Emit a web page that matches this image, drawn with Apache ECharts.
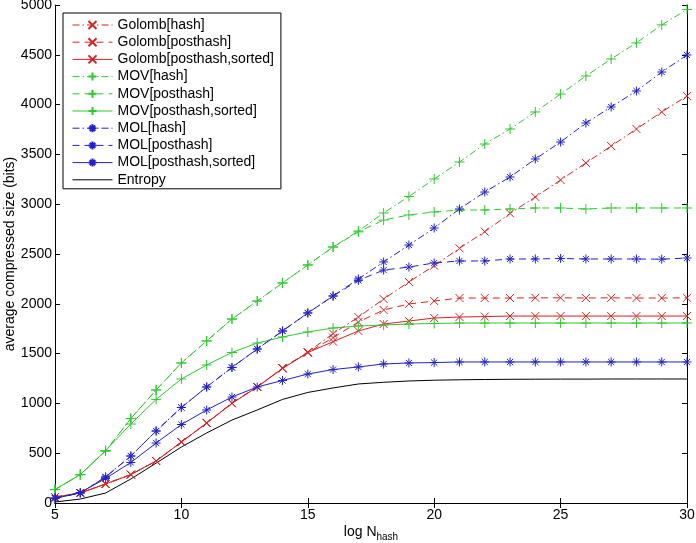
<!DOCTYPE html>
<html><head><meta charset="utf-8">
<script src="https://cdn.jsdelivr.net/npm/echarts@6/dist/echarts.min.js"></script>
<style>html,body{margin:0;padding:0;background:#fff}#c{width:696px;height:543px}</style>
</head><body><div id="c"></div>
<script>
const logN = [5,6,7,8,9,10,11,12,13,14,15,16,17,18,19,20,21,22,23,24,25,26,27,28,29,30];
const golombHash = [60,100,191,285,422,612,803,1004,1165,1355,1515,1700,1867,2048,2219,2383,2557,2724,2908,3072,3243,3414,3584,3755,3926,4086];
const golombPosthash = [60,100,191,285,422,612,803,1004,1165,1355,1510,1660,1817,1938,1998,2028,2058,2058,2058,2060,2060,2058,2060,2058,2058,2060];
const golombSorted = [60,100,191,285,422,612,803,1000,1165,1350,1510,1620,1727,1797,1827,1857,1867,1872,1877,1877,1877,1877,1877,1877,1877,1877];
const movHash = [135,285,522,848,1135,1406,1627,1847,2028,2209,2390,2570,2731,2912,3077,3253,3424,3604,3755,3926,4106,4287,4458,4620,4800,4955];
const movPosthash = [135,285,522,848,1135,1406,1627,1847,2028,2209,2390,2570,2722,2841,2892,2922,2942,2942,2952,2962,2962,2952,2962,2962,2962,2962];
const movSorted = [135,285,527,793,1040,1245,1386,1511,1606,1667,1717,1757,1777,1787,1797,1802,1807,1807,1807,1807,1807,1807,1807,1807,1807,1807];
const molHash = [50,100,261,472,723,959,1165,1361,1546,1727,1908,2078,2249,2420,2590,2761,2952,3122,3273,3454,3624,3815,3976,4137,4327,4498];
const molPosthash = [50,100,261,472,723,959,1165,1361,1546,1727,1908,2078,2235,2339,2369,2410,2430,2430,2450,2450,2455,2450,2450,2450,2448,2460];
const molSorted = [45,105,246,407,602,788,934,1064,1165,1230,1295,1340,1366,1396,1406,1410,1416,1416,1416,1416,1416,1416,1416,1416,1416,1416];
const entropy = [10,40,100,241,400,562,703,833,934,1040,1110,1155,1195,1212,1225,1233,1237,1240,1242,1243,1244,1244,1245,1245,1245,1245];

const names = ['Golomb[hash]','Golomb[posthash]','Golomb[posthash,sorted]','MOV[hash]','MOV[posthash]','MOV[posthash,sorted]','MOL[hash]','MOL[posthash]','MOL[posthash,sorted]','Entropy'];
const values = [golombHash,golombPosthash,golombSorted,movHash,movPosthash,movSorted,molHash,molPosthash,molSorted,entropy];

const RED = '#d42222', GREEN = '#2ec82e', BLUE = '#2222c8', BLACK = '#000000';
const X_SYM = 'path://M0,0L10,10M10,0L0,10';
const P_SYM = 'path://M5,0L5,10M0,5L10,5';
const S_SYM = 'path://M5,0L5,10M0,5L10,5M1.6,1.6L8.4,8.4M8.4,1.6L1.6,8.4';
const DASHDOT = [7,3,1.5,3];
const DASH = [7,5];
const styles = [
  [RED, DASHDOT, X_SYM, 8], [RED, DASH, X_SYM, 8], [RED, 'solid', X_SYM, 8],
  [GREEN, DASHDOT, P_SYM, 10], [GREEN, DASH, P_SYM, 10], [GREEN, 'solid', P_SYM, 10],
  [BLUE, DASHDOT, S_SYM, 9], [BLUE, DASH, S_SYM, 9], [BLUE, 'solid', S_SYM, 9],
  [BLACK, 'solid', 'none', 0]
];

const series = names.map((n, i) => {
  const [c, t, sym, sz] = styles[i];
  const none = sym === 'none';
  return {
    name: n, type: 'line', xAxisIndex: 0, yAxisIndex: 0,
    data: logN.map((x, j) => [x, values[i][j]]),
    symbol: none ? 'circle' : sym, symbolSize: sz, showSymbol: !none,
    smooth: false, animation: false,
    lineStyle: { color: c, width: 1, type: t },
    itemStyle: none ? { color: 'rgba(0,0,0,0)', borderColor: 'rgba(0,0,0,0)', borderWidth: 0 }
                    : { color: c, borderColor: c, borderWidth: 1 },
    emphasis: { disabled: true }
  };
});

const FONT = 'Liberation Sans, Arial, Helvetica, sans-serif';
const chart = echarts.init(document.getElementById('c'), null, { renderer: 'canvas' });
chart.setOption({
  animation: false,
  backgroundColor: '#fff',
  textStyle: { fontFamily: FONT },
  grid: { left: 55, right: 9, top: 5, bottom: 40, containLabel: false, outerBoundsMode: 'none' },
  legend: {
    orient: 'vertical', left: 63, top: 13,
    itemWidth: 40, itemHeight: 10, itemGap: 3.2,
    padding: [5, 7, 2, 9],
    borderColor: '#000', borderWidth: 1, backgroundColor: '#fff',
    selectedMode: false,
    lineStyle: { width: 1 },
    textStyle: { fontSize: 14, color: '#000', fontFamily: FONT, lineHeight: 14 },
    data: names
  },
  xAxis: [{
    type: 'value', min: 5, max: 30, interval: 5, position: 'bottom',
    axisLine: { show: true, lineStyle: { color: '#000', width: 1 } },
    axisTick: { show: true, inside: true, length: 5, lineStyle: { color: '#000' } },
    axisLabel: { fontSize: 14, color: '#000', margin: 5, fontFamily: FONT },
    splitLine: { show: false },
    name: '{n|log N}{s|hash}', nameLocation: 'middle', nameGap: 22, nameMoveOverlap: false,
    nameTextStyle: {
      rich: {
        n: { fontSize: 14, color: '#000', fontFamily: FONT, verticalAlign: 'top', lineHeight: 16 },
        s: { fontSize: 10, color: '#000', fontFamily: FONT, verticalAlign: 'top', padding: [7, 0, 0, 0], lineHeight: 12 }
      }
    }
  }, {
    type: 'value', min: 5, max: 30, interval: 5, position: 'top',
    axisLine: { show: true, lineStyle: { color: '#000', width: 1 } },
    axisTick: { show: true, inside: true, length: 5, lineStyle: { color: '#000' } },
    axisLabel: { show: false }, splitLine: { show: false }
  }],
  yAxis: [{
    type: 'value', min: 0, max: 5000, interval: 500, position: 'left',
    axisLine: { show: true, lineStyle: { color: '#000', width: 1 } },
    axisTick: { show: true, inside: true, length: 5, lineStyle: { color: '#000' } },
    axisLabel: { fontSize: 14, color: '#000', margin: 3, fontFamily: FONT, formatter: v => String(v) },
    splitLine: { show: false },
    name: 'average compressed size (bits)', nameLocation: 'middle', nameGap: 38, nameMoveOverlap: false,
    nameTextStyle: { fontSize: 14, color: '#000', fontFamily: FONT }
  }, {
    type: 'value', min: 0, max: 5000, interval: 500, position: 'right',
    axisLine: { show: true, lineStyle: { color: '#000', width: 1 } },
    axisTick: { show: true, inside: true, length: 5, lineStyle: { color: '#000' } },
    axisLabel: { show: false }, splitLine: { show: false }
  }],
  series: series
});
</script></body></html>
